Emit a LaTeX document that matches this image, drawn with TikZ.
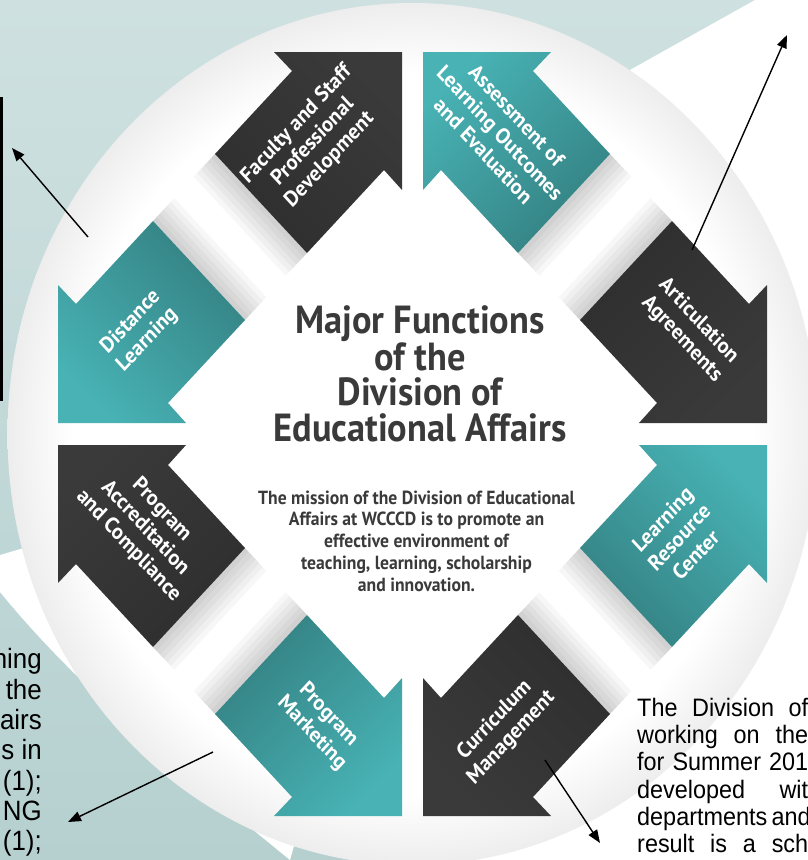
\documentclass[tikz,border=0pt]{standalone}
\usepackage{fontspec}
\newfontfamily\diafont{PT Sans}
\newfontfamily\notefont{Liberation Sans}
\usetikzlibrary{arrows.meta}
\definecolor{bgteal}{RGB}{182,208,208}
\definecolor{bgteallight}{RGB}{206,225,224}
\definecolor{arrowteal}{RGB}{72,178,180}
\definecolor{arrowdark}{RGB}{58,58,58}
\definecolor{titlegray}{RGB}{58,58,58}
\pgfdeclareradialshading{discshade}{\pgfpoint{0bp}{0bp}}{color(0bp)=(white); color(21bp)=(white); color(25bp)=(black!7); color(50bp)=(black!7)}
\tikzset{
  tealarrow/.style={top color=arrowteal, middle color=arrowteal, bottom color=arrowteal!72!black},
  darkarrow/.style={top color=arrowdark, middle color=arrowdark, bottom color=arrowdark!80!black},
  arrowlabel/.style={text=white, align=center, inner sep=0,
    font=\diafont\bfseries\fontsize{20.5}{23.5}\selectfont, yscale=1.078},
  titletext/.style={text=titlegray, align=center, inner sep=0,
    font=\diafont\bfseries\fontsize{36.5}{33.1}\selectfont, yscale=1.078},
  missiontext/.style={text=titlegray, align=center, inner sep=0,
    font=\diafont\bfseries\fontsize{17.7}{20.2}\selectfont, yscale=1.078},
  notetext/.style={text=black, inner sep=0, font=\notefont, yscale=1.078},
  conn/.style={-{Triangle[length=13bp,width=10bp]}, line width=1.4bp, black}
}
\begin{document}
\begin{tikzpicture}[x=1bp, y=-1bp]
\useasboundingbox (0,0) rectangle (808,860);
\clip (0,0) rectangle (808,860);

\shade[top color=bgteallight, bottom color=bgteal] (0,0) rectangle (808,860);
\fill[white] (755,0) -- (808,0) -- (808,860) -- (412,860) -- (412,192) -- cycle;
\fill[white] (0,555) -- (412,434) -- (290,860) .. controls (180,770) and (80,690) .. (0,592) -- cycle;
\shade[shading=discshade] (412.5,434) ellipse [x radius=405bp, y radius=431bp];

\foreach \ax/\ay/\bx/\by/\ox/\oy in {215/154/307/253/-0.71/0.76, 610/154/518/253/0.71/0.76,
    672/221/580/320/-0.71/-0.76, 672/647/580/548/-0.71/0.76, 610/714/518/615/0.71/-0.76,
    215/714/307/615/-0.71/-0.76, 153/647/245/548/0.71/0.76, 153/221/245/320/0.71/-0.76}
  \foreach \k in {5,10,...,30}
    \fill[black, opacity=0.03] (\ax,\ay) -- (\bx,\by) -- (\bx+\k*\ox,\by+\k*\oy) -- (\ax+\k*\ox,\ay+\k*\oy) -- cycle;

\shade[darkarrow, shading angle=-45] (402,52) -- (274,52) -- (292,71) -- (215,154) -- (307,253) -- (384,170) -- (402,190) -- cycle;
\shade[tealarrow, shading angle=45] (423,52) -- (551,52) -- (533,71) -- (610,154) -- (518,253) -- (441,170) -- (423,190) -- cycle;
\shade[darkarrow, shading angle=-135] (767,423) -- (767,285) -- (749,304) -- (672,221) -- (580,320) -- (657,403) -- (639,423) -- cycle;
\shade[tealarrow, shading angle=-45] (767,445) -- (767,583) -- (749,564) -- (672,647) -- (580,548) -- (657,465) -- (639,445) -- cycle;
\shade[darkarrow, shading angle=135] (423,816) -- (551,816) -- (533,797) -- (610,714) -- (518,615) -- (441,698) -- (423,678) -- cycle;
\shade[tealarrow, shading angle=-135] (402,816) -- (274,816) -- (292,797) -- (215,714) -- (307,615) -- (384,698) -- (402,678) -- cycle;
\shade[darkarrow, shading angle=45] (58,445) -- (58,583) -- (76,564) -- (153,647) -- (245,548) -- (168,465) -- (186,445) -- cycle;
\shade[tealarrow, shading angle=135] (58,423) -- (58,285) -- (76,304) -- (153,221) -- (245,320) -- (168,403) -- (186,423) -- cycle;

\node (faculty) [arrowlabel, rotate=45] at (313,142) {Faculty and Staff\\Professional\\Development};
\node (assessment) [arrowlabel, rotate=-45] at (500,133) {Assessment of\\Learning Outcomes\\and Evaluation};
\node (articulation) [arrowlabel, rotate=-45] at (690,330) {Articulation\\Agreements};
\node (resource) [arrowlabel, rotate=45] at (679,537) {Learning\\Resource\\Center};
\node (curriculum) [arrowlabel, rotate=45] at (503,729) {Curriculum\\Management};
\node (marketing) [arrowlabel, rotate=-45] at (320,724) {Program\\Marketing};
\node (accreditation) [arrowlabel, rotate=-45] at (145,528) {Program\\Accreditation\\and Compliance};
\node (distance) [arrowlabel, rotate=45] at (139,331) {Distance\\Learning};

\node (title) [titletext] at (420,373.5) {Major Functions\\of the\\Division of\\Educational Affairs};
\node (mission) [missiontext] at (416.5,541) {The mission of the Division of Educational\\Affairs at WCCCD is to promote an\\effective environment of\\teaching, learning, scholarship\\and innovation.};

\node (notebox) [draw=black, line width=3bp, minimum width=60bp, minimum height=301bp, inner sep=0, anchor=north east] at (3,97) {};

\foreach \txt [count=\i] in {ning, the, airs, s in, (1);, NG, (1);}
  \node (left\i) [notetext, font=\notefont\fontsize{26}{30}\selectfont, anchor=base east] at (42,638.5+30.3*\i) {\txt};
\foreach \txt [count=\i] in {The Division of, working on the, for Summer 201, developed wit, departments and, result is a sch}
  \node (right\i) [notetext, font=\notefont\fontsize{23.5}{27}\selectfont, anchor=base west] at (637,689+27.3*\i) {\makebox[171bp][s]{\txt}};

\coordinate (boxpoint) at (12,148);
\coordinate (distnote) at (88,237);
\coordinate (artinote) at (692,250);
\coordinate (toppoint) at (787,35);
\coordinate (marknote) at (213,752);
\coordinate (leftpoint) at (68,822);
\coordinate (currnote) at (545,760);
\coordinate (rightpoint) at (600,843);
\draw[conn] (distnote) -- (boxpoint);
\draw[conn] (artinote) -- (toppoint);
\draw[conn] (marknote) -- (leftpoint);
\draw[conn] (currnote) -- (rightpoint);
\end{tikzpicture}
\end{document}
